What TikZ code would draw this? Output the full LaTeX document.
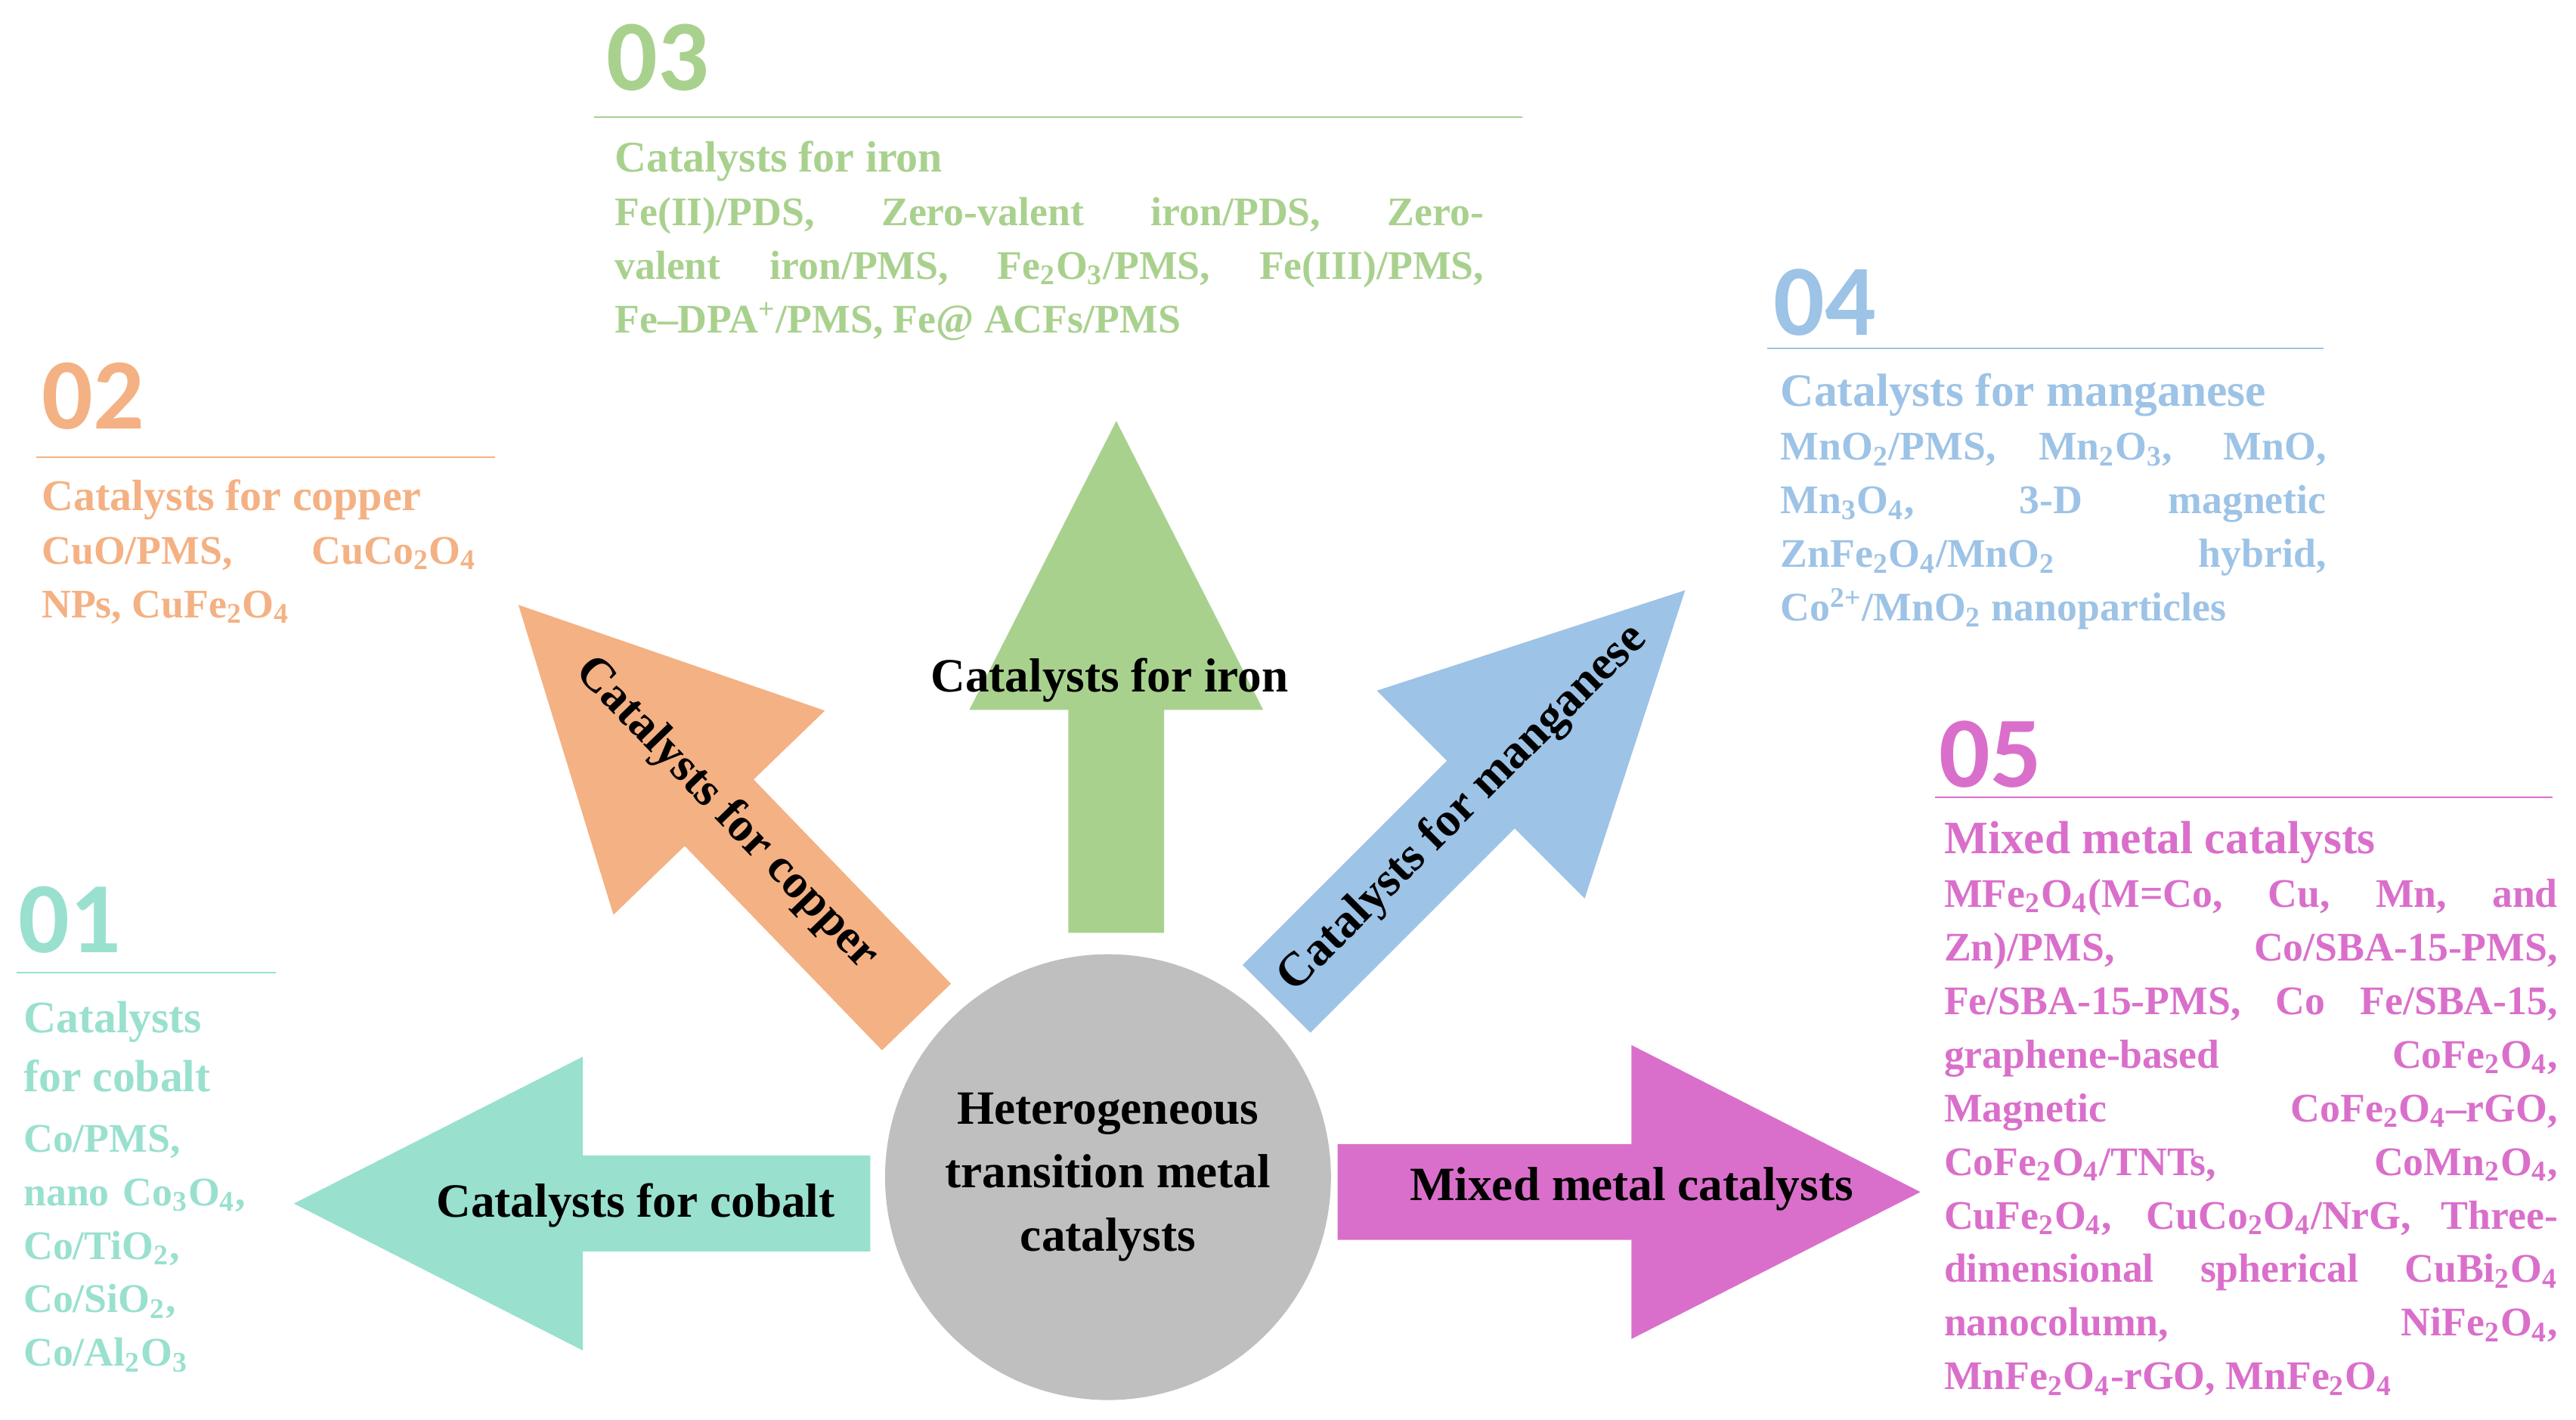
\documentclass[tikz,border=0pt]{standalone}
\usepackage{fontspec}
\setmainfont{Liberation Serif}
\newfontfamily\numfont{Carlito}
\definecolor{coC}{HTML}{99E0CF}
\definecolor{cuC}{HTML}{F4B183}
\definecolor{feC}{HTML}{A9D18E}
\definecolor{mnC}{HTML}{9DC3E6}
\definecolor{mixC}{HTML}{DA6FCB}
\definecolor{hubC}{HTML}{BFBFBF}
\tikzset{
  pics/fat arrow/.style={code={
    \fill[pic actions] (0,-29) -- ({#1-175},-29) -- ({#1-175},-89) -- (#1,0)
      -- ({#1-175},89) -- ({#1-175},29) -- (0,29) -- cycle;}},
  lbl/.style={font=\fontsize{18}{22}\selectfont\bfseries, inner sep=0pt},
  num/.style={anchor=west, inner sep=0pt, font=\numfont\fontsize{38}{40}\selectfont\bfseries},
  blk/.style={anchor=north west, inner sep=0pt, align=justify,
    font=\fontsize{15.3}{20.2}\selectfont\bfseries},
  rule/.style={line width=0.6pt}
}
\begin{document}
\begin{tikzpicture}[x=0.021846cm, y=-0.021846cm]
  \useasboundingbox (0,0) rectangle (1560,860);
  % arrows
  \pic[fill=coC, rotate=180] at (527,729) {fat arrow=349};
  \pic[fill=cuC, rotate=134] at (555,616) {fat arrow=347};
  \pic[fill=feC, rotate=90] at (676,565) {fat arrow=310};
  \pic[fill=mnC, rotate=45] at (773,605) {fat arrow=350};
  \pic[fill=mixC] at (810,722) {fat arrow=353};
  \node[circle, fill=hubC, minimum size=5.9cm, lbl, align=center,
    font=\fontsize{18}{24}\selectfont\bfseries] (hub) at (671,713)
    {Heterogeneous\\transition metal\\catalysts};
  % arrow labels
  \node[lbl] (coL) at (385,730) {Catalysts for cobalt};
  \node[lbl, rotate=-46] (cuL) at (440,493) {Catalysts for copper};
  \node[lbl] (feL) at (672,412) {Catalysts for iron};
  \node[lbl, rotate=45] (mnL) at (886,490) {Catalysts for manganese};
  \node[lbl] (mixL) at (988,720) {Mixed metal catalysts};
  % 01
  \node[num, text=coC] (n1) at (11,557) {01};
  \draw[rule, coC] (10,589) -- (167,589);
  \node[blk, text=coC, align=left, font=\fontsize{17}{22.4}\selectfont\bfseries] (t1) at (14,606)
    {Catalysts\\for cobalt};
  \node[blk, text=coC, align=left, text width=3.4cm] (b1) at (14,681)
    {Co/PMS,\\nano Co\textsubscript{3}O\textsubscript{4},\\Co/TiO\textsubscript{2},\\Co/SiO\textsubscript{2},\\Co/Al\textsubscript{2}O\textsubscript{3}};
  % 02
  \node[num, text=cuC] (n2) at (25,240) {02};
  \draw[rule, cuC] (22,277) -- (300,277);
  \node[blk, text=cuC, text width=5.75cm] (b2) at (25,290)
    {{\fontsize{16.5}{20.2}\selectfont Catalysts for copper}\newline
     CuO/PMS, CuCo\textsubscript{2}O\textsubscript{4}\linebreak NPs, CuFe\textsubscript{2}O\textsubscript{4}};
  % 03
  \node[num, text=feC] (n3) at (367,35) {03};
  \draw[rule, feC] (360,71) -- (922,71);
  \node[blk, text=feC, text width=11.5cm] (b3) at (372,85)
    {{\fontsize{16.5}{20.2}\selectfont Catalysts for iron}\newline
     Fe(II)/PDS, Zero-valent iron/PDS, Zero-\linebreak valent iron/PMS, Fe\textsubscript{2}O\textsubscript{3}/PMS, Fe(III)/PMS,\linebreak Fe--DPA\textsuperscript{+}/PMS, Fe@ ACFs/PMS};
  % 04
  \node[num, text=mnC] (n4) at (1074,183) {04};
  \draw[rule, mnC] (1070,211) -- (1407,211);
  \node[blk, text=mnC, text width=7.22cm] (b4) at (1078,226)
    {{\fontsize{17.5}{20.2}\selectfont Catalysts for manganese}\newline
     MnO\textsubscript{2}/PMS, Mn\textsubscript{2}O\textsubscript{3}, MnO,\linebreak Mn\textsubscript{3}O\textsubscript{4}, 3-D magnetic\linebreak ZnFe\textsubscript{2}O\textsubscript{4}/MnO\textsubscript{2} hybrid,\linebreak Co\textsuperscript{2+}/MnO\textsubscript{2} nanoparticles};
  % 05
  \node[num, text=mixC] (n5) at (1174,457) {05};
  \draw[rule, mixC] (1172,483) -- (1546,483);
  \node[blk, text=mixC, text width=8.12cm] (b5) at (1177,497)
    {{\fontsize{17.5}{22}\selectfont Mixed metal catalysts}\newline
     MFe\textsubscript{2}O\textsubscript{4}(M=Co, Cu, Mn, and\linebreak Zn)/PMS, Co/SBA-15-PMS,\linebreak Fe/SBA-15-PMS, Co Fe/SBA-15,\linebreak graphene-based CoFe\textsubscript{2}O\textsubscript{4},\linebreak Magnetic CoFe\textsubscript{2}O\textsubscript{4}--rGO,\linebreak CoFe\textsubscript{2}O\textsubscript{4}/TNTs, CoMn\textsubscript{2}O\textsubscript{4},\linebreak CuFe\textsubscript{2}O\textsubscript{4}, CuCo\textsubscript{2}O\textsubscript{4}/NrG, Three-\linebreak dimensional spherical CuBi\textsubscript{2}O\textsubscript{4}\linebreak nanocolumn, NiFe\textsubscript{2}O\textsubscript{4},\linebreak MnFe\textsubscript{2}O\textsubscript{4}-rGO, MnFe\textsubscript{2}O\textsubscript{4}};
\end{tikzpicture}
\end{document}
